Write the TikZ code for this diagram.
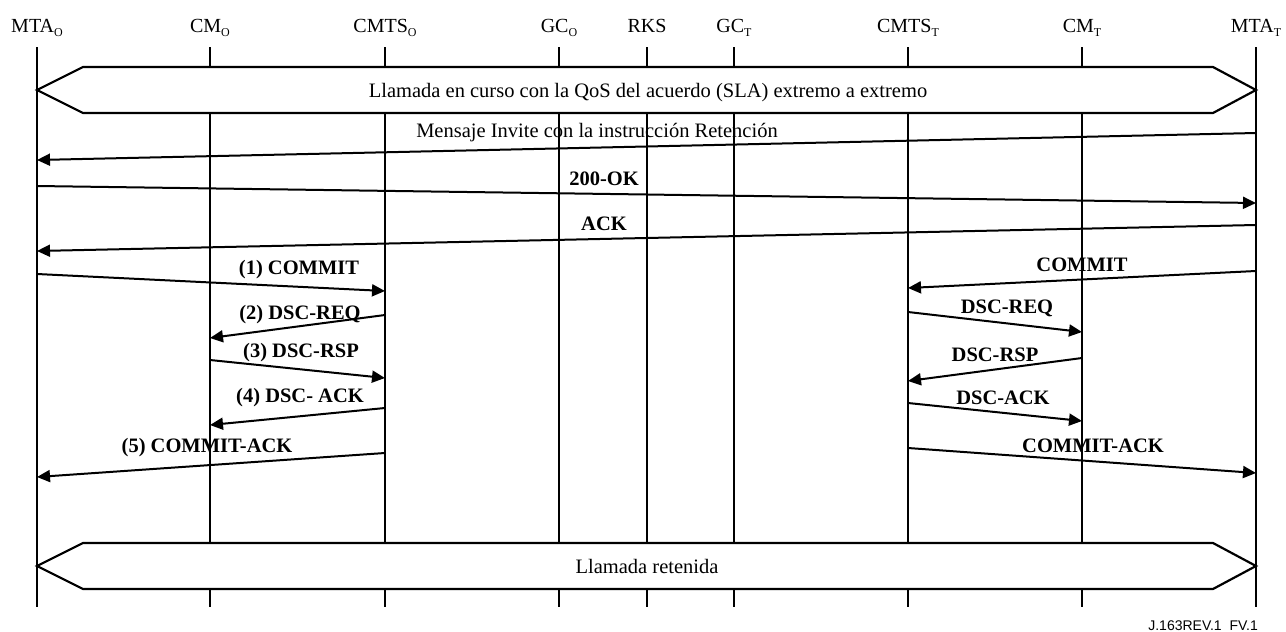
\documentclass[tikz,border=0pt]{standalone}
\usepackage{fontspec}
\setmainfont{Liberation Serif}
\newfontfamily\footfont{Liberation Sans}
\usetikzlibrary{arrows.meta}
\newcommand\lsub[1]{\raisebox{-0.5ex}{\fontsize{12}{12}\selectfont #1}}
\begin{document}
\begin{tikzpicture}[x=1pt,y=-1pt,
  life/.style={line width=2.6pt},
  msg/.style={line width=2pt,-{Triangle[length=13pt,width=12pt]}},
  banner/.style={draw,line width=2.2pt,fill=white,line join=miter},
  hdr/.style={font=\fontsize{20}{22}\selectfont,anchor=base,inner sep=0pt},
  txt/.style={font=\fontsize{20.5}{22}\selectfont,anchor=base,inner sep=0pt},
  lbl/.style={font=\bfseries\fontsize{20.5}{22}\selectfont,anchor=base,inner sep=0pt}]
\useasboundingbox (0,0) rectangle (1286,632);
% headers
\node[hdr] (hMTAo) at (37,32) {MTA\lsub{O}};
\node[hdr] (hCMo) at (210,32) {CM\lsub{O}};
\node[hdr] (hCMTSo) at (385,32) {CMTS\lsub{O}};
\node[hdr] (hGCo) at (559,32) {GC\lsub{O}};
\node[hdr] (hRKS) at (647,32) {RKS};
\node[hdr] (hGCt) at (734,32) {GC\lsub{T}};
\node[hdr] (hCMTSt) at (908,32) {CMTS\lsub{T}};
\node[hdr] (hCMt) at (1082,32) {CM\lsub{T}};
\node[hdr] (hMTAt) at (1256,32) {MTA\lsub{T}};
% lifelines
\foreach \n/\x in {MTAo/37,CMo/210,CMTSo/385,GCo/559,RKS/647,GCt/734,CMTSt/908,CMt/1082,MTAt/1256}{
  \coordinate (top\n) at (\x,47);
  \coordinate (bot\n) at (\x,607);
  \draw[life] (top\n) -- (bot\n);
}
% banners
\draw[banner] (37,90) -- (83,67) -- (1213,67) -- (1256,90) -- (1213,113) -- (83,113) -- cycle;
\node[txt] (b1) at (648,97) {Llamada en curso con la QoS del acuerdo (SLA) extremo a extremo};
\draw[banner] (37,566) -- (83,543) -- (1213,543) -- (1256,566) -- (1213,589) -- (83,589) -- cycle;
\node[txt] (b2) at (647,573) {Llamada retenida};
% end-to-end messages
\coordinate (m1s) at (1256,133); \coordinate (m1e) at (37,160);
\draw[msg] (m1s) -- (m1e);
\node[txt] (l1) at (597,137) {Mensaje Invite con la instrucción Retención};
\coordinate (m2s) at (37,186); \coordinate (m2e) at (1256,203);
\draw[msg] (m2s) -- (m2e);
\node[lbl] (l2) at (604,185) {200-OK};
\coordinate (m3s) at (1256,225); \coordinate (m3e) at (37,251);
\draw[msg] (m3s) -- (m3e);
\node[lbl] (l3) at (604,230) {ACK};
% originating side
\coordinate (o1s) at (37,274); \coordinate (o1e) at (385,291);
\draw[msg] (o1s) -- (o1e);
\node[lbl] (ol1) at (299,274) {(1) COMMIT};
\coordinate (o2s) at (385,315); \coordinate (o2e) at (210,338);
\draw[msg] (o2s) -- (o2e);
\node[lbl] (ol2) at (300,319) {(2) DSC-REQ};
\coordinate (o3s) at (210,360); \coordinate (o3e) at (385,378);
\draw[msg] (o3s) -- (o3e);
\node[lbl] (ol3) at (301,357) {(3) DSC-RSP};
\coordinate (o4s) at (385,408); \coordinate (o4e) at (210,425);
\draw[msg] (o4s) -- (o4e);
\node[lbl] (ol4) at (300,402) {(4) DSC- ACK};
\coordinate (o5s) at (385,453); \coordinate (o5e) at (37,477);
\draw[msg] (o5s) -- (o5e);
\node[lbl] (ol5) at (207,452) {(5) COMMIT-ACK};
% terminating side
\coordinate (t1s) at (1256,271); \coordinate (t1e) at (908,288);
\draw[msg] (t1s) -- (t1e);
\node[lbl] (tl1) at (1082,271) {COMMIT};
\coordinate (t2s) at (908,312); \coordinate (t2e) at (1082,332);
\draw[msg] (t2s) -- (t2e);
\node[lbl] (tl2) at (1007,313) {DSC-REQ};
\coordinate (t3s) at (1082,358); \coordinate (t3e) at (908,381);
\draw[msg] (t3s) -- (t3e);
\node[lbl] (tl3) at (995,361) {DSC-RSP};
\coordinate (t4s) at (908,403); \coordinate (t4e) at (1082,421);
\draw[msg] (t4s) -- (t4e);
\node[lbl] (tl4) at (1003,404) {DSC-ACK};
\coordinate (t5s) at (908,448); \coordinate (t5e) at (1256,473);
\draw[msg] (t5s) -- (t5e);
\node[lbl] (tl5) at (1093,452) {COMMIT-ACK};
% footer
\node[font=\footfont\fontsize{14}{16}\selectfont,anchor=base east,inner sep=0pt] (foot) at (1258,630) {J.163REV.1\ \ FV.1};
\end{tikzpicture}
\end{document}
